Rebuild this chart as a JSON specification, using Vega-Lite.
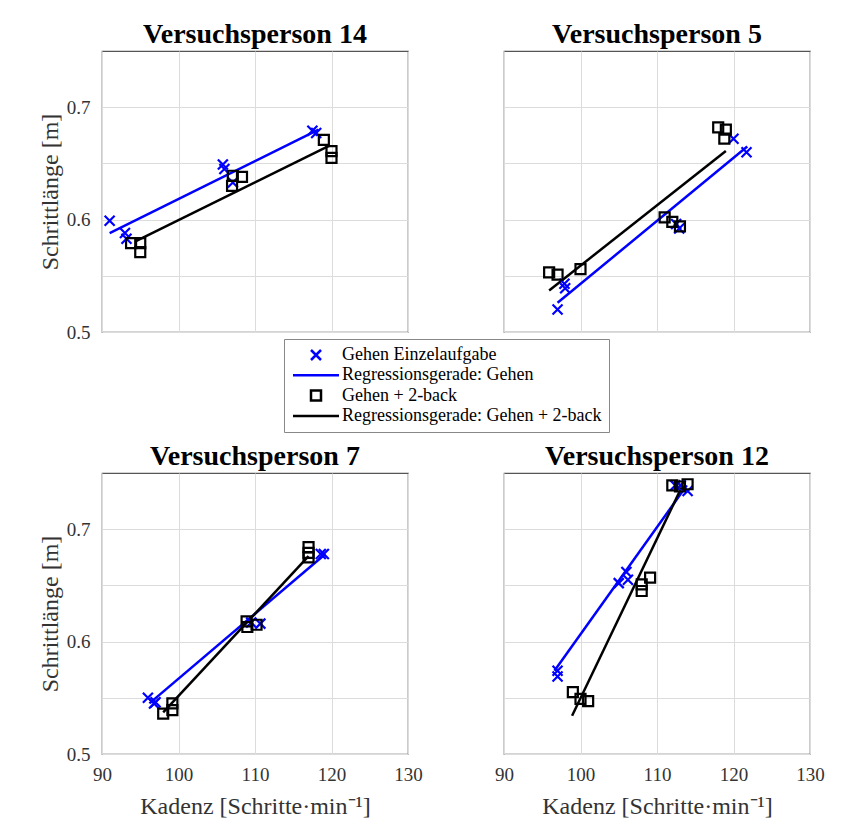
{
  "$schema": "https://vega.github.io/schema/vega-lite/v6.json",
  "padding": {"left": 37, "top": 20, "right": 5, "bottom": 5},
  "background": "white",
  "data": {"values": [
    {"p": "VP14", "s": "Gehen Einzelaufgabe", "x": 91.0, "y": 0.599},
    {"p": "VP14", "s": "Gehen Einzelaufgabe", "x": 93.0, "y": 0.588},
    {"p": "VP14", "s": "Gehen Einzelaufgabe", "x": 93.2, "y": 0.583},
    {"p": "VP14", "s": "Gehen Einzelaufgabe", "x": 105.8, "y": 0.649},
    {"p": "VP14", "s": "Gehen Einzelaufgabe", "x": 106.0, "y": 0.645},
    {"p": "VP14", "s": "Gehen Einzelaufgabe", "x": 107.1, "y": 0.633},
    {"p": "VP14", "s": "Gehen Einzelaufgabe", "x": 117.5, "y": 0.679},
    {"p": "VP14", "s": "Gehen Einzelaufgabe", "x": 118.0, "y": 0.677},
    {"p": "VP14", "s": "Regressionsgerade: Gehen", "x": 91.0, "y": 0.588},
    {"p": "VP14", "s": "Regressionsgerade: Gehen", "x": 118.3, "y": 0.680},
    {"p": "VP14", "s": "Gehen + 2-back", "x": 93.8, "y": 0.579},
    {"p": "VP14", "s": "Gehen + 2-back", "x": 95.0, "y": 0.579},
    {"p": "VP14", "s": "Gehen + 2-back", "x": 95.0, "y": 0.571},
    {"p": "VP14", "s": "Gehen + 2-back", "x": 107.1, "y": 0.639},
    {"p": "VP14", "s": "Gehen + 2-back", "x": 107.0, "y": 0.630},
    {"p": "VP14", "s": "Gehen + 2-back", "x": 108.3, "y": 0.638},
    {"p": "VP14", "s": "Gehen + 2-back", "x": 119.0, "y": 0.671},
    {"p": "VP14", "s": "Gehen + 2-back", "x": 120.0, "y": 0.661},
    {"p": "VP14", "s": "Gehen + 2-back", "x": 120.0, "y": 0.655},
    {"p": "VP14", "s": "Regressionsgerade: Gehen + 2-back", "x": 94.5, "y": 0.581},
    {"p": "VP14", "s": "Regressionsgerade: Gehen + 2-back", "x": 119.8, "y": 0.666},

    {"p": "VP5", "s": "Gehen Einzelaufgabe", "x": 97.0, "y": 0.520},
    {"p": "VP5", "s": "Gehen Einzelaufgabe", "x": 97.9, "y": 0.543},
    {"p": "VP5", "s": "Gehen Einzelaufgabe", "x": 98.0, "y": 0.539},
    {"p": "VP5", "s": "Gehen Einzelaufgabe", "x": 112.5, "y": 0.596},
    {"p": "VP5", "s": "Gehen Einzelaufgabe", "x": 112.9, "y": 0.592},
    {"p": "VP5", "s": "Gehen Einzelaufgabe", "x": 120.0, "y": 0.672},
    {"p": "VP5", "s": "Gehen Einzelaufgabe", "x": 121.7, "y": 0.660},
    {"p": "VP5", "s": "Regressionsgerade: Gehen", "x": 97.0, "y": 0.526},
    {"p": "VP5", "s": "Regressionsgerade: Gehen", "x": 121.8, "y": 0.665},
    {"p": "VP5", "s": "Gehen + 2-back", "x": 95.9, "y": 0.553},
    {"p": "VP5", "s": "Gehen + 2-back", "x": 97.0, "y": 0.551},
    {"p": "VP5", "s": "Gehen + 2-back", "x": 100.0, "y": 0.556},
    {"p": "VP5", "s": "Gehen + 2-back", "x": 111.0, "y": 0.602},
    {"p": "VP5", "s": "Gehen + 2-back", "x": 112.0, "y": 0.598},
    {"p": "VP5", "s": "Gehen + 2-back", "x": 113.0, "y": 0.594},
    {"p": "VP5", "s": "Gehen + 2-back", "x": 118.0, "y": 0.682},
    {"p": "VP5", "s": "Gehen + 2-back", "x": 119.0, "y": 0.680},
    {"p": "VP5", "s": "Gehen + 2-back", "x": 118.8, "y": 0.672},
    {"p": "VP5", "s": "Regressionsgerade: Gehen + 2-back", "x": 95.9, "y": 0.537},
    {"p": "VP5", "s": "Regressionsgerade: Gehen + 2-back", "x": 119.0, "y": 0.661},

    {"p": "VP7", "s": "Gehen Einzelaufgabe", "x": 96.0, "y": 0.550},
    {"p": "VP7", "s": "Gehen Einzelaufgabe", "x": 96.8, "y": 0.545},
    {"p": "VP7", "s": "Gehen Einzelaufgabe", "x": 97.0, "y": 0.546},
    {"p": "VP7", "s": "Gehen Einzelaufgabe", "x": 109.5, "y": 0.617},
    {"p": "VP7", "s": "Gehen Einzelaufgabe", "x": 110.7, "y": 0.616},
    {"p": "VP7", "s": "Gehen Einzelaufgabe", "x": 118.6, "y": 0.678},
    {"p": "VP7", "s": "Gehen Einzelaufgabe", "x": 119.0, "y": 0.678},
    {"p": "VP7", "s": "Regressionsgerade: Gehen", "x": 96.2, "y": 0.545},
    {"p": "VP7", "s": "Regressionsgerade: Gehen", "x": 119.2, "y": 0.678},
    {"p": "VP7", "s": "Gehen + 2-back", "x": 98.0, "y": 0.536},
    {"p": "VP7", "s": "Gehen + 2-back", "x": 99.2, "y": 0.539},
    {"p": "VP7", "s": "Gehen + 2-back", "x": 99.2, "y": 0.545},
    {"p": "VP7", "s": "Gehen + 2-back", "x": 108.9, "y": 0.618},
    {"p": "VP7", "s": "Gehen + 2-back", "x": 109.0, "y": 0.613},
    {"p": "VP7", "s": "Gehen + 2-back", "x": 110.2, "y": 0.615},
    {"p": "VP7", "s": "Gehen + 2-back", "x": 117.0, "y": 0.684},
    {"p": "VP7", "s": "Gehen + 2-back", "x": 117.0, "y": 0.679},
    {"p": "VP7", "s": "Gehen + 2-back", "x": 117.0, "y": 0.675},
    {"p": "VP7", "s": "Regressionsgerade: Gehen + 2-back", "x": 98.0, "y": 0.537},
    {"p": "VP7", "s": "Regressionsgerade: Gehen + 2-back", "x": 117.0, "y": 0.676},

    {"p": "VP12", "s": "Gehen Einzelaufgabe", "x": 97.0, "y": 0.574},
    {"p": "VP12", "s": "Gehen Einzelaufgabe", "x": 97.0, "y": 0.569},
    {"p": "VP12", "s": "Gehen Einzelaufgabe", "x": 105.0, "y": 0.652},
    {"p": "VP12", "s": "Gehen Einzelaufgabe", "x": 106.0, "y": 0.662},
    {"p": "VP12", "s": "Gehen Einzelaufgabe", "x": 106.2, "y": 0.655},
    {"p": "VP12", "s": "Gehen Einzelaufgabe", "x": 112.4, "y": 0.739},
    {"p": "VP12", "s": "Gehen Einzelaufgabe", "x": 113.1, "y": 0.739},
    {"p": "VP12", "s": "Gehen Einzelaufgabe", "x": 114.0, "y": 0.734},
    {"p": "VP12", "s": "Regressionsgerade: Gehen", "x": 96.6, "y": 0.574},
    {"p": "VP12", "s": "Regressionsgerade: Gehen", "x": 113.9, "y": 0.739},
    {"p": "VP12", "s": "Gehen + 2-back", "x": 99.0, "y": 0.555},
    {"p": "VP12", "s": "Gehen + 2-back", "x": 100.0, "y": 0.549},
    {"p": "VP12", "s": "Gehen + 2-back", "x": 101.0, "y": 0.547},
    {"p": "VP12", "s": "Gehen + 2-back", "x": 108.0, "y": 0.651},
    {"p": "VP12", "s": "Gehen + 2-back", "x": 108.0, "y": 0.645},
    {"p": "VP12", "s": "Gehen + 2-back", "x": 109.1, "y": 0.657},
    {"p": "VP12", "s": "Gehen + 2-back", "x": 112.0, "y": 0.739},
    {"p": "VP12", "s": "Gehen + 2-back", "x": 113.0, "y": 0.738},
    {"p": "VP12", "s": "Gehen + 2-back", "x": 114.0, "y": 0.740},
    {"p": "VP12", "s": "Regressionsgerade: Gehen + 2-back", "x": 98.9, "y": 0.534},
    {"p": "VP12", "s": "Regressionsgerade: Gehen + 2-back", "x": 113.2, "y": 0.737}
  ]},
  "columns": 2,
  "spacing": {"row": 141, "column": 96},
  "bounds": "flush",
  "concat": [
    {
      "title": "Versuchsperson 14",
      "width": 306, "height": 281,
      "transform": [{"filter": "datum.p === 'VP14'"}],
      "encoding": {
        "x": {"field": "x", "type": "quantitative", "scale": {"domain": [90, 130], "nice": false, "zero": false},
              "axis": {"values": [90, 100, 110, 120, 130], "labels": false, "title": null}},
        "y": {"field": "y", "type": "quantitative", "scale": {"domain": [0.5, 0.75], "nice": false, "zero": false},
              "axis": {"values": [0.5, 0.55, 0.6, 0.65, 0.7], "labelExpr": "abs(datum.value*10 - round(datum.value*10)) < 0.001 ? format(datum.value, '.1f') : ''", "title": "Schrittlänge [m]"}}
      },
      "layer": [
        {"transform": [{"filter": "datum.s === 'Regressionsgerade: Gehen' || datum.s === 'Regressionsgerade: Gehen + 2-back'"}],
         "mark": {"type": "line", "strokeWidth": 2.5},
         "encoding": {"stroke": {"field": "s", "type": "nominal", "scale": {"domain": ["Regressionsgerade: Gehen", "Regressionsgerade: Gehen + 2-back"], "range": ["#0000ff", "#000000"]}, "legend": null}}},
        {"transform": [{"filter": "datum.s === 'Gehen Einzelaufgabe' || datum.s === 'Gehen + 2-back'"}],
         "mark": {"type": "point", "filled": false, "size": 100, "strokeWidth": 2.2, "opacity": 1},
         "encoding": {
           "color": {"field": "s", "type": "nominal", "scale": {"domain": ["Gehen Einzelaufgabe", "Regressionsgerade: Gehen", "Gehen + 2-back", "Regressionsgerade: Gehen + 2-back"], "range": ["#0000ff", "#0000ff", "#000000", "#000000"]},
                     "legend": {"title": null, "orient": "none", "legendX": 182, "legendY": 288}},
           "shape": {"field": "s", "type": "nominal", "scale": {"domain": ["Gehen Einzelaufgabe", "Regressionsgerade: Gehen", "Gehen + 2-back", "Regressionsgerade: Gehen + 2-back"], "range": ["M-1,-1L1,1M-1,1L1,-1", "M-4.6,0L4.6,0", "square", "M-4.6,0L4.6,0"]},
                     "legend": {"title": null, "orient": "none", "legendX": 182, "legendY": 288}}
         }}
      ]
    },
    {
      "title": "Versuchsperson 5",
      "width": 306, "height": 281,
      "transform": [{"filter": "datum.p === 'VP5'"}],
      "encoding": {
        "x": {"field": "x", "type": "quantitative", "scale": {"domain": [90, 130], "nice": false, "zero": false},
              "axis": {"values": [90, 100, 110, 120, 130], "labels": false, "title": null}},
        "y": {"field": "y", "type": "quantitative", "scale": {"domain": [0.5, 0.75], "nice": false, "zero": false},
              "axis": {"values": [0.5, 0.55, 0.6, 0.65, 0.7], "labels": false, "title": null}}
      },
      "layer": [
        {"transform": [{"filter": "datum.s === 'Regressionsgerade: Gehen' || datum.s === 'Regressionsgerade: Gehen + 2-back'"}],
         "mark": {"type": "line", "strokeWidth": 2.5},
         "encoding": {"stroke": {"field": "s", "type": "nominal", "scale": {"domain": ["Regressionsgerade: Gehen", "Regressionsgerade: Gehen + 2-back"], "range": ["#0000ff", "#000000"]}, "legend": null}}},
        {"transform": [{"filter": "datum.s === 'Gehen Einzelaufgabe' || datum.s === 'Gehen + 2-back'"}],
         "mark": {"type": "point", "filled": false, "size": 100, "strokeWidth": 2.2, "opacity": 1},
         "encoding": {
           "color": {"field": "s", "type": "nominal", "scale": {"domain": ["Gehen Einzelaufgabe", "Regressionsgerade: Gehen", "Gehen + 2-back", "Regressionsgerade: Gehen + 2-back"], "range": ["#0000ff", "#0000ff", "#000000", "#000000"]},
                     "legend": {"title": null, "orient": "none", "legendX": 182, "legendY": 288}},
           "shape": {"field": "s", "type": "nominal", "scale": {"domain": ["Gehen Einzelaufgabe", "Regressionsgerade: Gehen", "Gehen + 2-back", "Regressionsgerade: Gehen + 2-back"], "range": ["M-1,-1L1,1M-1,1L1,-1", "M-4.6,0L4.6,0", "square", "M-4.6,0L4.6,0"]},
                     "legend": {"title": null, "orient": "none", "legendX": 182, "legendY": 288}}
         }}
      ]
    },
    {
      "title": "Versuchsperson 7",
      "width": 306, "height": 281,
      "transform": [{"filter": "datum.p === 'VP7'"}],
      "encoding": {
        "x": {"field": "x", "type": "quantitative", "scale": {"domain": [90, 130], "nice": false, "zero": false},
              "axis": {"values": [90, 100, 110, 120, 130], "format": "d", "title": "Kadenz [Schritte·min⁻¹]"}},
        "y": {"field": "y", "type": "quantitative", "scale": {"domain": [0.5, 0.75], "nice": false, "zero": false},
              "axis": {"values": [0.5, 0.55, 0.6, 0.65, 0.7], "labelExpr": "abs(datum.value*10 - round(datum.value*10)) < 0.001 ? format(datum.value, '.1f') : ''", "title": "Schrittlänge [m]"}}
      },
      "layer": [
        {"transform": [{"filter": "datum.s === 'Regressionsgerade: Gehen' || datum.s === 'Regressionsgerade: Gehen + 2-back'"}],
         "mark": {"type": "line", "strokeWidth": 2.5},
         "encoding": {"stroke": {"field": "s", "type": "nominal", "scale": {"domain": ["Regressionsgerade: Gehen", "Regressionsgerade: Gehen + 2-back"], "range": ["#0000ff", "#000000"]}, "legend": null}}},
        {"transform": [{"filter": "datum.s === 'Gehen Einzelaufgabe' || datum.s === 'Gehen + 2-back'"}],
         "mark": {"type": "point", "filled": false, "size": 100, "strokeWidth": 2.2, "opacity": 1},
         "encoding": {
           "color": {"field": "s", "type": "nominal", "scale": {"domain": ["Gehen Einzelaufgabe", "Regressionsgerade: Gehen", "Gehen + 2-back", "Regressionsgerade: Gehen + 2-back"], "range": ["#0000ff", "#0000ff", "#000000", "#000000"]},
                     "legend": {"title": null, "orient": "none", "legendX": 182, "legendY": 288}},
           "shape": {"field": "s", "type": "nominal", "scale": {"domain": ["Gehen Einzelaufgabe", "Regressionsgerade: Gehen", "Gehen + 2-back", "Regressionsgerade: Gehen + 2-back"], "range": ["M-1,-1L1,1M-1,1L1,-1", "M-4.6,0L4.6,0", "square", "M-4.6,0L4.6,0"]},
                     "legend": {"title": null, "orient": "none", "legendX": 182, "legendY": 288}}
         }}
      ]
    },
    {
      "title": "Versuchsperson 12",
      "width": 306, "height": 281,
      "transform": [{"filter": "datum.p === 'VP12'"}],
      "encoding": {
        "x": {"field": "x", "type": "quantitative", "scale": {"domain": [90, 130], "nice": false, "zero": false},
              "axis": {"values": [90, 100, 110, 120, 130], "format": "d", "title": "Kadenz [Schritte·min⁻¹]"}},
        "y": {"field": "y", "type": "quantitative", "scale": {"domain": [0.5, 0.75], "nice": false, "zero": false},
              "axis": {"values": [0.5, 0.55, 0.6, 0.65, 0.7], "labels": false, "title": null}}
      },
      "layer": [
        {"transform": [{"filter": "datum.s === 'Regressionsgerade: Gehen' || datum.s === 'Regressionsgerade: Gehen + 2-back'"}],
         "mark": {"type": "line", "strokeWidth": 2.5},
         "encoding": {"stroke": {"field": "s", "type": "nominal", "scale": {"domain": ["Regressionsgerade: Gehen", "Regressionsgerade: Gehen + 2-back"], "range": ["#0000ff", "#000000"]}, "legend": null}}},
        {"transform": [{"filter": "datum.s === 'Gehen Einzelaufgabe' || datum.s === 'Gehen + 2-back'"}],
         "mark": {"type": "point", "filled": false, "size": 100, "strokeWidth": 2.2, "opacity": 1},
         "encoding": {
           "color": {"field": "s", "type": "nominal", "scale": {"domain": ["Gehen Einzelaufgabe", "Regressionsgerade: Gehen", "Gehen + 2-back", "Regressionsgerade: Gehen + 2-back"], "range": ["#0000ff", "#0000ff", "#000000", "#000000"]},
                     "legend": {"title": null, "orient": "none", "legendX": 182, "legendY": 288}},
           "shape": {"field": "s", "type": "nominal", "scale": {"domain": ["Gehen Einzelaufgabe", "Regressionsgerade: Gehen", "Gehen + 2-back", "Regressionsgerade: Gehen + 2-back"], "range": ["M-1,-1L1,1M-1,1L1,-1", "M-4.6,0L4.6,0", "square", "M-4.6,0L4.6,0"]},
                     "legend": {"title": null, "orient": "none", "legendX": 182, "legendY": 288}}
         }}
      ]
    }
  ],
  "config": {
    "view": {"stroke": "#555555", "strokeWidth": 1.2},
    "axis": {"domain": false, "ticks": false, "grid": true, "gridColor": "#dcdcdc", "gridWidth": 1,
             "labelFont": "Liberation Serif", "labelFontSize": 19, "labelColor": "#333333",
             "titleFont": "Liberation Serif", "titleFontSize": 24, "titleFontWeight": "normal", "titleColor": "#333333",
             "labelFlush": false, "labelOverlap": false, "labelBound": false},
    "axisX": {"labelPadding": 11, "titlePadding": 10},
    "axisY": {"labelPadding": 12, "titlePadding": 4},
    "title": {"font": "Liberation Serif", "fontSize": 28, "fontWeight": "bold", "color": "#000000", "offset": 2},
    "legend": {"labelFont": "Liberation Serif", "labelFontSize": 18, "labelColor": "#000000", "labelLimit": 400,
               "strokeColor": "#888888", "fillColor": "#ffffff", "padding": 7, "rowPadding": 1.3,
               "symbolSize": 100, "symbolStrokeWidth": 2.5, "symbolOffset": 16, "labelOffset": 17}
  }
}
